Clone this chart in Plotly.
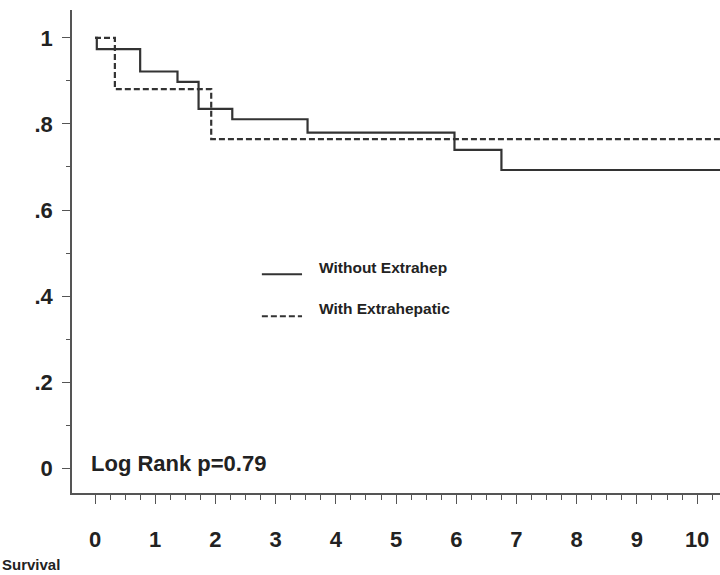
import plotly.graph_objects as go

# Kaplan-Meier step data (years, survival proportion)
times_without = [0, 0.03, 0.75, 1.37, 1.72, 2.28, 3.53, 5.97, 6.75, 10.4]
surv_without = [1.0, 0.974, 0.922, 0.898, 0.835, 0.811, 0.780, 0.740, 0.693, 0.693]
times_with = [0, 0.33, 1.93, 10.4]
surv_with = [1.0, 0.881, 0.765, 0.765]

y_tickvals = [0, 0.2, 0.4, 0.6, 0.8, 1.0]
y_ticktext = ["0", ".2", ".4", ".6", ".8", "1"]
x_tickvals = [0, 1, 2, 3, 4, 5, 6, 7, 8, 9, 10]
x_ticktext = [str(v) for v in x_tickvals]
x_minor_ticks = [i * 0.25 for i in range(0, 42)]

series_names = ["Without Extrahep", "With Extrahepatic"]
annot_text = "Log Rank p=0.79"
footer_text = "Survival"

LINE = "#333333"
FONT = "Liberation Sans, Arial, sans-serif"

fig = go.Figure()
fig.add_trace(go.Scatter(x=times_without, y=surv_without, mode="lines",
                         line=dict(shape="hv", color=LINE, width=2.2),
                         name=series_names[0], showlegend=False, hoverinfo="skip"))
fig.add_trace(go.Scatter(x=times_with, y=surv_with, mode="lines",
                         line=dict(shape="hv", color=LINE, width=2.2, dash="6px,3px"),
                         name=series_names[1], showlegend=False, hoverinfo="skip"))

# legend drawn manually
fig.add_shape(type="line", xref="paper", yref="paper", x0=0.293, x1=0.355, y0=0.453, y1=0.453,
              line=dict(color=LINE, width=2))
fig.add_shape(type="line", xref="paper", yref="paper", x0=0.293, x1=0.355, y0=0.366, y1=0.366,
              line=dict(color=LINE, width=2, dash="6px,3px"))
fig.add_annotation(xref="paper", yref="paper", x=0.378, y=0.466, text=series_names[0],
                   showarrow=False, xanchor="left", yanchor="middle",
                   font=dict(family=FONT, size=15.5, color="#222", weight="bold"))
fig.add_annotation(xref="paper", yref="paper", x=0.378, y=0.381, text=series_names[1],
                   showarrow=False, xanchor="left", yanchor="middle",
                   font=dict(family=FONT, size=15.5, color="#222", weight="bold"))
fig.add_annotation(xref="paper", yref="paper", x=0.027, y=0.062, text=annot_text,
                   showarrow=False, xanchor="left", yanchor="middle",
                   font=dict(family=FONT, size=22, color="#222", weight="bold"))
fig.add_annotation(xref="paper", yref="paper", x=-0.111, y=-0.149, text=footer_text,
                   showarrow=False, xanchor="left", yanchor="middle",
                   font=dict(family=FONT, size=15, color="#222", weight="bold"))

tickfont = dict(family=FONT, size=22, color="#222", weight="bold")

fig.update_xaxes(range=[-0.382, 10.38], tickvals=x_tickvals, ticktext=x_ticktext,
                 showline=True, linecolor="#555", linewidth=1.5, showgrid=False, zeroline=False,
                 ticks="outside", ticklen=9, tickcolor="#555", tickwidth=1.2,
                 ticklabelstandoff=17, tickfont=tickfont,
                 minor=dict(tickvals=x_minor_ticks, ticks="outside", ticklen=5, tickcolor="#555",
                            tickwidth=1, showgrid=False))
fig.update_yaxes(range=[-0.058, 1.065], tickvals=y_tickvals, ticktext=y_ticktext,
                 showline=True, linecolor="#555", linewidth=1.5, showgrid=False, zeroline=False,
                 ticks="outside", ticklen=8, tickcolor="#555", tickwidth=1.2,
                 ticklabelstandoff=5, tickfont=tickfont,
                 minor=dict(dtick=0.1, tick0=0, ticks="outside", ticklen=4, tickcolor="#555",
                            tickwidth=1, showgrid=False))

fig.update_layout(width=720, height=575, margin=dict(l=72, r=0, t=10, b=82),
                  plot_bgcolor="white", paper_bgcolor="white", showlegend=False)

fig.write_html("out.html", config={"displayModeBar": False},
               post_script="document.body.style.margin='0';")
